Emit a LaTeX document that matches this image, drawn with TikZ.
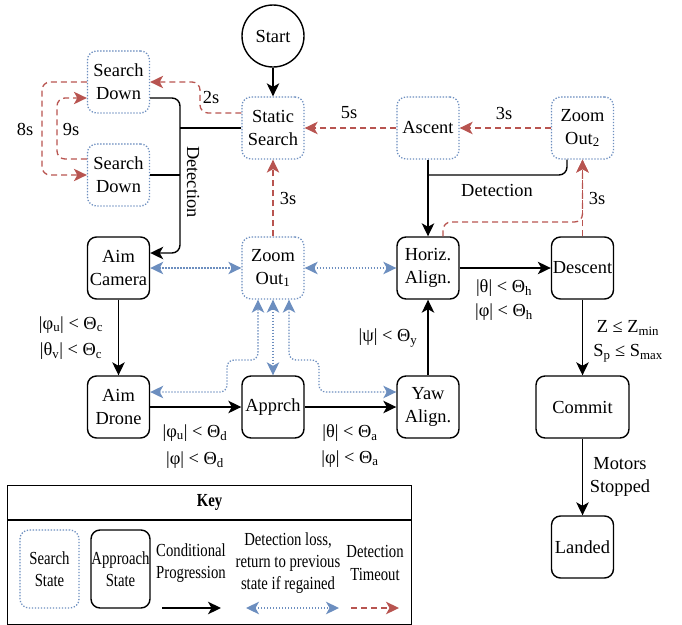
\documentclass[tikz,border=0pt]{standalone}
\usepackage{fontspec}
\setmainfont{Liberation Serif}
\newfontfamily\keyfont[FakeStretch=0.8]{Liberation Serif}
\usetikzlibrary{arrows.meta}
\definecolor{srchblue}{HTML}{6C8EBF}
\definecolor{toRed}{HTML}{B85450}
\begin{document}
\begin{tikzpicture}[x=1pt,y=-1pt,
  font=\fontsize{18.4}{22.6}\selectfont,
  every node/.style={inner sep=0pt},
  approach/.style={draw, line width=1.4pt, rounded corners=9pt, minimum width=62pt, minimum height=62pt, align=center},
  search/.style={draw=srchblue, dash pattern=on 1.3pt off 1.7pt, line width=1.3pt, rounded corners=9pt, minimum width=62pt, minimum height=62pt, align=center},
  cond/.style={line width=1.4pt, -{Stealth[length=13pt,width=12.5pt,inset=3.5pt]}},
  plain/.style={line width=1.4pt},
  loss/.style={draw=srchblue, dash pattern=on 1.3pt off 1.7pt, line width=1.3pt, rounded corners=7pt,
    {Stealth[length=13pt,width=12.5pt,inset=3.5pt]}-{Stealth[length=13pt,width=12.5pt,inset=3.5pt]}},
  timeout/.style={draw=toRed, dash pattern=on 6pt off 4pt, line width=1.3pt, rounded corners=8pt,
    -{Stealth[length=13pt,width=12.5pt,inset=3.5pt]}},
  lbl/.style={align=center},
  keytext/.style={align=center, font=\keyfont\fontsize{18.4}{22.3}\selectfont}
]
\useasboundingbox (0,0) rectangle (682,624);

% nodes
\node[circle, draw, line width=1.4pt, minimum size=62pt] (start) at (273,36) {Start};
\node[search] (static) at (273,128) {Static\\Search};
\node[search] (sd1) at (118.5,82) {Search\\Down};
\node[search] (sd2) at (118.5,175) {Search\\Down};
\node[search] (asc) at (428,128) {Ascent};
\node[search] (zo2) at (582.5,128) {Zoom\\Out\textsubscript{2}};
\node[approach] (aimc) at (118.5,268) {Aim\\Camera};
\node[search] (zo1) at (273,268) {Zoom\\Out\textsubscript{1}};
\node[approach] (horiz) at (428,268) {Horiz.\\Align.};
\node[approach] (desc) at (582.5,268) {Descent};
\node[approach] (aimd) at (118.5,407) {Aim\\Drone};
\node[approach] (appr) at (273,407) {Apprch};
\node[approach] (yaw) at (428,407) {Yaw\\Align.};
\node[approach, minimum width=93pt] (commit) at (582.5,407) {Commit};
\node[approach] (landed) at (582.5,547) {Landed};

% conditional progression
\draw[cond] (start) -- (static);
\draw[cond, rounded corners=8pt] ([yshift=-16pt]sd1.east) -- (180,98) -- (180,253) -- ([yshift=15pt]aimc.east);
\draw[plain] (sd2.east) -- (180,175);
\draw[plain] (static.west) -- (180,128);
\node[rotate=-90] (detl) at (193,182) {Detection};
\draw[cond] (asc) -- (horiz);
\draw[plain, rounded corners=8pt] ([xshift=-15.5pt]zo2.south) -- (567,175) -- (428,175);
\node (detr) at (497,190) {Detection};

\draw[cond] (aimc) -- (aimd);
\node[lbl] (l1) at (71,325) {|φ\textsubscript{u}| < Θ\textsubscript{c}};
\node[lbl] (l2) at (71,351) {|θ\textsubscript{v}| < Θ\textsubscript{c}};
\draw[cond] (aimd) -- (appr);
\node[lbl] (l3) at (195,433) {|φ\textsubscript{u}| < Θ\textsubscript{d}};
\node[lbl] (l4) at (195,460) {|φ| < Θ\textsubscript{d}};
\draw[cond] (appr) -- (yaw);
\node[lbl] (l5) at (350,433) {|θ| < Θ\textsubscript{a}};
\node[lbl] (l6) at (350,459) {|φ| < Θ\textsubscript{a}};
\draw[cond] (yaw) -- (horiz);
\node[lbl] (l7) at (388,338) {|ψ| < Θ\textsubscript{y}};
\draw[cond] (horiz) -- (desc);
\node[lbl] (l8) at (504,288) {|θ| < Θ\textsubscript{h}};
\node[lbl] (l9) at (504,312) {|φ| < Θ\textsubscript{h}};
\draw[cond] (desc) -- (commit);
\node[lbl] (l10) at (628,328) {Z ≤ Z\textsubscript{min}};
\node[lbl] (l11) at (628,353) {S\textsubscript{p} ≤ S\textsubscript{max}};
\draw[cond] (commit) -- (landed);
\node[lbl] (l12) at (620,477) {Motors\\Stopped};

% detection timeout
\draw[timeout] ([yshift=15pt]static.west) -- (200,113) -- (200,82) -- (sd1.east);
\node (t2) at (211,97) {2s};
\draw[timeout] (sd1.west) -- (42,82) -- (42,175) -- (sd2.west);
\node (t8) at (25,129) {8s};
\draw[timeout] ([yshift=16pt]sd2.west) -- (57,159) -- (57,98) -- ([yshift=-16pt]sd1.west);
\node (t9) at (71,129) {9s};
\draw[timeout] (asc) -- (static);
\node (t5) at (349,113) {5s};
\draw[timeout] (zo2) -- (asc);
\node (t3a) at (504,113) {3s};
\draw[timeout] (zo1) -- (static);
\node (t3b) at (288,198) {3s};
\draw[timeout] (desc) -- (zo2);
\node (t3c) at (597,198) {3s};
\draw[timeout] ([xshift=15pt]horiz.north) -- (443,222) -- (582.5,222) -- (zo2.south);

% detection loss
\draw[loss] (aimc) -- (zo1);
\draw[loss] (zo1) -- (horiz);
\draw[loss] ([yshift=15pt]aimd.east) -- (227,392) -- (227,360) -- (258,360) -- ([xshift=-15pt]zo1.south);
\draw[loss] (zo1) -- (appr);
\draw[loss] ([xshift=16pt]zo1.south) -- (289,360) -- (319,360) -- (319,392) -- ([yshift=15pt]yaw.west);

% key
\node[draw, line width=1.2pt, minimum width=404pt, minimum height=34pt, anchor=north west,
  font=\keyfont\bfseries\fontsize{18.4}{22.6}\selectfont] (keyhead) at (7,485) {Key};
\node[draw, line width=1.2pt, minimum width=404pt, minimum height=104pt, anchor=north west] (keybody) at (keyhead.south west) {};
\node[search, minimum width=59pt, minimum height=78pt, keytext] (ks) at (49.5,569) {Search\\State};
\node[approach, minimum width=59pt, minimum height=78pt, keytext] (ka) at (120.5,569) {Approach\\State};
\node[keytext] (kc) at (191,563) {Conditional\\Progression};
\coordinate (kc1) at (162,608);
\coordinate (kc2) at (221,608);
\draw[cond] (kc1) -- (kc2);
\node[keytext] (kl) at (288,563) {Detection loss,\\return to previous\\state if regained};
\coordinate (kl1) at (246,608);
\coordinate (kl2) at (339,608);
\draw[loss] (kl1) -- (kl2);
\node[keytext] (kt) at (375,563) {Detection\\Timeout};
\coordinate (kt1) at (351,608);
\coordinate (kt2) at (399,608);
\draw[timeout] (kt1) -- (kt2);
\end{tikzpicture}
\end{document}
